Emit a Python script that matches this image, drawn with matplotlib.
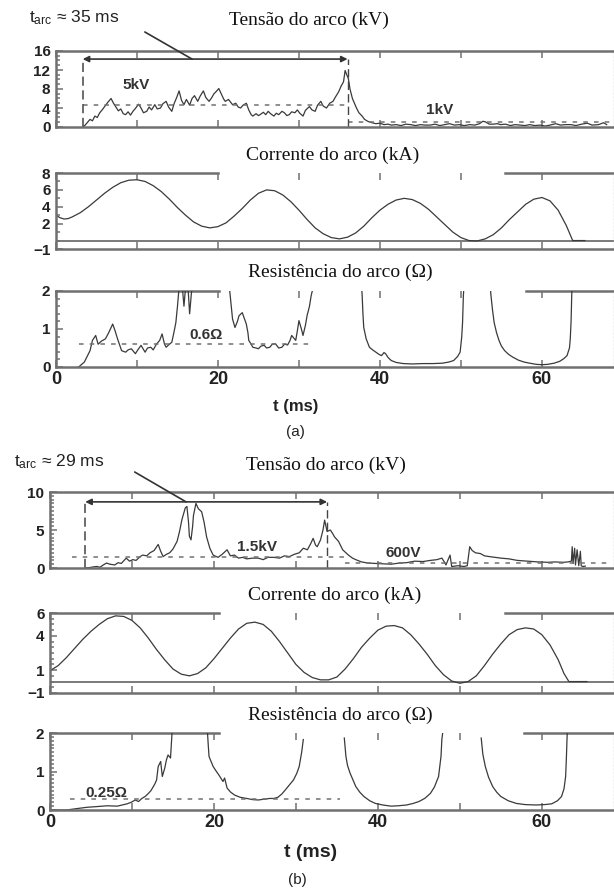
import matplotlib
matplotlib.use("Agg")
import matplotlib.pyplot as plt
import numpy as np
from matplotlib.ticker import MultipleLocator

plt.rcParams['font.family'] = ['Liberation Sans', 'DejaVu Sans']
plt.rcParams['mathtext.fontset'] = 'custom'
plt.rcParams['mathtext.rm'] = 'Liberation Sans'
plt.rcParams['mathtext.it'] = 'Liberation Sans'

# ---------------- data (t in ms) ----------------
# (a) arc voltage, kV
a_voltage = [(3.3, 0.0), (3.6, 0.4), (3.9, 1.0), (4.2, 1.6), (4.5, 1.3), (4.8, 2.3), (5.1, 2.0), (5.4, 3.0),
             (5.7, 3.6), (6.0, 4.3), (6.4, 5.2), (6.8, 6.0), (7.1, 5.0), (7.4, 4.2), (7.7, 3.4), (8.0, 3.8),
             (8.3, 2.8), (8.6, 2.6), (8.9, 3.2), (9.2, 2.5), (9.5, 3.3), (9.8, 3.9), (10.2, 4.8), (10.5, 4.0),
             (10.8, 3.0), (11.2, 3.3), (11.5, 4.2), (11.8, 3.6), (12.2, 4.7), (12.5, 3.8), (12.9, 4.0), (13.2, 4.9),
             (13.6, 5.4), (13.9, 4.2), (14.3, 3.3), (14.6, 5.0), (14.9, 6.2), (15.2, 7.6), (15.5, 5.6), (15.8, 4.7),
             (16.1, 5.8), (16.5, 4.6), (16.8, 6.0), (17.1, 6.6), (17.5, 5.4), (17.8, 6.5), (18.2, 7.6), (18.5, 6.2),
             (18.9, 5.4), (19.2, 6.1), (19.5, 7.0), (19.8, 7.5), (20.1, 8.1), (20.4, 7.0), (20.7, 5.9), (20.9, 5.4),
             (21.3, 5.8), (21.8, 4.7), (22.2, 5.0), (22.5, 4.2), (22.8, 4.0), (23.1, 4.6), (23.5, 5.0), (23.8, 3.6),
             (24.1, 2.6), (24.3, 2.3), (24.7, 2.8), (25.0, 2.4), (25.2, 2.6), (25.6, 3.1), (25.9, 2.6), (26.2, 3.3),
             (26.5, 2.8), (26.9, 2.3), (27.2, 2.9), (27.5, 2.6), (27.9, 3.3), (28.2, 3.0), (28.5, 2.4), (28.8, 2.6),
             (29.1, 3.2), (29.5, 3.0), (29.8, 3.6), (30.1, 2.9), (30.5, 2.3), (30.8, 3.5), (31.1, 4.0), (31.3, 4.3),
             (31.6, 3.6), (32.0, 3.3), (32.3, 4.6), (32.7, 5.4), (33.0, 4.4), (33.4, 4.0), (33.8, 5.0), (34.2, 5.4),
             (34.5, 6.3), (34.9, 7.4), (35.2, 8.6), (35.5, 9.5), (35.7, 11.9), (35.9, 11.0), (36.1, 10.2), (36.3, 8.0),
             (36.6, 6.0), (36.9, 4.8), (37.1, 4.0), (37.4, 3.0), (37.8, 2.3), (38.1, 1.6), (38.5, 1.2), (39.0, 0.9),
             (39.5, 0.7), (40.0, 0.8), (40.5, 0.5), (41.0, 0.6), (41.4, 0.4), (42.0, 0.5), (42.6, 0.3), (43.2, 0.6),
             (43.8, 0.5), (44.4, 0.3), (45.0, 0.5), (45.6, 0.4), (46.2, 0.4), (46.8, 0.6), (47.4, 0.3), (48.0, 0.5),
             (48.6, 0.7), (49.2, 0.4), (49.8, 0.5), (50.4, 0.3), (51.1, 0.5), (51.7, 0.4), (52.3, 0.7), (52.7, 1.2),
             (53.0, 1.1), (53.5, 0.6), (54.0, 0.6), (54.5, 0.7), (54.9, 0.5), (55.5, 0.6), (56.1, 0.3), (56.7, 0.5),
             (57.3, 0.4), (57.9, 0.3), (58.5, 0.5), (59.1, 0.3), (59.8, 0.4), (60.4, 0.2), (61.0, 0.4), (61.7, 0.7),
             (62.3, 0.4), (62.9, 0.5), (63.6, 0.5), (64.2, 0.3), (64.9, 0.6), (65.6, 0.8), (66.2, 0.4), (67.0, 0.5),
             (67.6, 0.9), (68.0, 0.5)]

# (a) arc current, kA
a_current = [(0, 3.0), (0.5, 2.7), (1, 2.55), (1.5, 2.6), (2, 2.8), (3, 3.3), (4, 4.0), (5, 4.8), (6, 5.6),
             (7, 6.3), (8, 6.85), (9, 7.15), (10, 7.2), (11, 7.0), (12, 6.5), (13, 5.8), (14, 4.9), (15, 3.9),
             (16, 3.0), (17, 2.2), (18, 1.7), (19, 1.5), (20, 1.65), (21, 2.1), (22, 2.9), (23, 3.8), (24, 4.8),
             (25, 5.6), (26, 6.0), (27, 5.9), (28, 5.4), (29, 4.6), (30, 3.6), (31, 2.5), (32, 1.5), (33, 0.8),
             (34, 0.35), (35, 0.2), (36, 0.4), (37, 0.9), (38, 1.7), (39, 2.7), (40, 3.6), (41, 4.3), (42, 4.8),
             (43, 5.0), (44, 4.85), (45, 4.4), (46, 3.7), (47, 2.8), (48, 1.9), (49, 1.0), (50, 0.35), (51, 0.0),
             (52, -0.05), (53, 0.2), (54, 0.7), (55, 1.5), (56, 2.5), (57, 3.4), (58, 4.3), (59, 4.9), (60, 5.1),
             (61, 4.7), (62, 3.6), (63, 1.8), (63.8, 0.0), (65.3, 0.0)]

# (a) arc resistance, ohm  (None = trace leaves the scale)
a_resistance = [(2.8, 0.0), (3.5, 0.13), (3.9, 0.3), (4.2, 0.43), (4.5, 0.7), (4.9, 0.83), (5.2, 0.6), (5.6, 0.68),
                (6.1, 0.74), (6.5, 0.9), (7.0, 1.13), (7.3, 0.95), (7.6, 0.74), (8.1, 0.43), (8.6, 0.39), (8.9, 0.45),
                (9.3, 0.48), (9.8, 0.35), (10.1, 0.45), (10.5, 0.57), (11.0, 0.39), (11.3, 0.5), (11.7, 0.52),
                (12.0, 0.45), (12.4, 0.6), (12.8, 0.7), (13.1, 0.87), (13.4, 0.6), (13.6, 0.52), (14.0, 0.6),
                (14.3, 0.65), (14.6, 0.95), (14.8, 1.17), (15.0, 1.6), (15.2, 2.1), (None, None),
                (15.6, 2.1), (15.8, 1.6), (16.0, 2.1), (None, None), (16.3, 2.1), (16.5, 1.4), (16.7, 1.9),
                (16.8, 2.1), (None, None),
                (21.4, 2.1), (21.5, 1.9), (21.8, 1.26), (22.1, 1.04), (22.4, 1.2), (22.6, 1.35), (23.0, 1.43),
                (23.3, 1.25), (23.5, 1.13), (23.7, 0.9), (23.8, 0.7), (24.1, 0.6), (24.3, 0.52), (24.7, 0.5),
                (25.0, 0.48), (25.3, 0.55), (25.7, 0.57), (26.0, 0.5), (26.4, 0.52), (26.7, 0.6), (27.1, 0.61),
                (27.5, 0.5), (27.9, 0.52), (28.2, 0.6), (28.6, 0.58), (28.9, 0.7), (29.1, 0.83), (29.4, 0.75),
                (29.6, 0.7), (29.8, 0.95), (30.0, 1.22), (30.3, 1.0), (30.5, 0.83), (30.8, 1.1), (31.0, 1.35),
                (31.3, 1.6), (31.5, 1.87), (31.7, 2.05), (None, None),
                (37.75, 2.05), (37.8, 1.9), (37.9, 1.4), (38.0, 1.04), (38.3, 0.74), (38.7, 0.52), (39.1, 0.45),
                (39.5, 0.39), (39.9, 0.33), (40.2, 0.3), (40.5, 0.38), (40.7, 0.35), (41.0, 0.25), (41.4, 0.17),
                (42.0, 0.12), (42.9, 0.09), (44.0, 0.08), (45.3, 0.09), (46.5, 0.09), (47.7, 0.1), (48.5, 0.13),
                (49.1, 0.17), (49.6, 0.28), (49.9, 0.39), (50.1, 0.8), (50.2, 1.17), (50.3, 1.87), (50.35, 2.05),
                (None, None),
                (53.65, 2.05), (53.7, 1.9), (53.9, 1.5), (54.1, 1.17), (54.4, 0.9), (54.7, 0.7), (55.0, 0.55),
                (55.4, 0.43), (55.9, 0.33), (56.4, 0.26), (57.1, 0.18), (57.8, 0.13), (58.5, 0.1), (59.3, 0.07),
                (60.0, 0.06), (60.7, 0.07), (61.5, 0.1), (62.2, 0.15), (62.7, 0.22), (63.1, 0.3), (63.4, 0.5),
                (63.5, 0.74), (63.6, 1.2), (63.7, 2.05)]

# (b) arc voltage, kV
b_voltage = [(4.3, 0.0), (4.8, 0.05), (5.3, 0.15), (5.7, 0.2), (6.1, 0.1), (6.5, 0.4), (6.9, 0.65), (7.3, 0.5),
             (7.9, 0.4), (8.3, 0.7), (8.7, 0.6), (9.3, 1.3), (9.7, 0.9), (10.1, 1.1), (10.5, 1.0), (11.0, 1.5),
             (11.3, 1.7), (11.8, 1.6), (12.2, 2.0), (12.7, 2.3), (13.2, 3.1), (13.5, 2.2), (13.8, 1.5), (14.2, 1.8),
             (14.6, 2.0), (15.0, 2.5), (15.5, 3.5), (15.8, 4.8), (16.1, 6.4), (16.5, 7.9), (16.7, 8.1), (16.9, 6.0),
             (17.0, 4.2), (17.2, 3.7), (17.4, 5.5), (17.5, 6.9), (17.8, 8.5), (18.1, 7.8), (18.5, 7.4), (18.8, 6.0),
             (19.1, 4.1), (19.5, 2.6), (19.9, 1.7), (20.5, 1.4), (21.0, 1.8), (21.6, 2.4), (22.0, 1.6), (22.5, 1.7),
             (23.0, 1.3), (23.5, 1.4), (24.0, 1.2), (24.7, 1.3), (25.4, 1.3), (26.0, 1.1), (26.6, 1.4), (27.3, 1.4),
             (28.0, 1.3), (28.6, 1.6), (29.2, 1.5), (29.8, 1.8), (30.4, 2.0), (30.9, 2.6), (31.4, 2.4), (31.8, 3.2),
             (32.1, 3.9), (32.4, 3.0), (32.6, 2.8), (33.0, 3.7), (33.3, 5.0), (33.5, 6.3), (33.8, 4.8), (34.2, 5.0),
             (34.5, 4.5), (34.7, 4.1), (35.2, 3.5), (35.7, 2.4), (36.1, 2.0), (36.4, 1.7), (36.9, 1.3), (37.3, 1.1),
             (38.0, 0.8), (38.8, 0.65), (39.7, 0.6), (40.7, 0.55), (41.6, 0.5), (42.6, 0.65), (43.5, 0.7),
             (44.5, 0.9), (45.5, 0.85), (46.4, 1.0), (47.2, 1.1), (47.8, 1.3), (48.1, 0.8), (48.3, 0.4), (48.6, 1.2),
             (48.8, 1.7), (49.0, 0.2), (49.8, 0.3), (50.5, 0.2), (50.9, 0.3), (51.1, 2.0), (51.2, 2.8), (51.5, 2.3),
             (51.9, 2.0), (52.5, 1.9), (53.0, 1.6), (53.6, 1.5), (54.3, 1.4), (55.0, 1.3), (56.0, 1.2), (57.0, 1.0),
             (58.3, 0.9), (59.5, 0.8), (60.7, 0.75), (61.6, 0.8), (62.6, 0.75), (63.2, 0.8), (63.6, 0.9),
             (63.7, 2.8), (63.8, 0.6), (64.0, 2.6), (64.1, 0.4), (64.3, 2.4), (64.5, 0.3), (64.7, 2.2), (64.8, 0.3),
             (65.0, 0.2), (65.3, 0.25)]

# (b) arc current, kA
b_current = [(0, 0.95), (1, 1.4), (2, 2.1), (3, 2.9), (4, 3.7), (5, 4.4), (6, 5.0), (7, 5.5), (8, 5.75),
             (9, 5.7), (10, 5.35), (11, 4.7), (12, 3.8), (13, 2.8), (14, 1.9), (15, 1.1), (16, 0.65), (17, 0.5),
             (18, 0.7), (19, 1.2), (20, 2.0), (21, 2.9), (22, 3.8), (23, 4.6), (24, 5.1), (25, 5.2), (26, 5.0),
             (27, 4.4), (28, 3.5), (29, 2.5), (30, 1.5), (31, 0.8), (32, 0.35), (33, 0.15), (34, 0.15), (35, 0.4),
             (36, 1.1), (37, 2.0), (38, 3.0), (39, 3.8), (40, 4.5), (41, 4.85), (42, 4.9), (43, 4.7), (44, 4.1),
             (45, 3.3), (46, 2.4), (47, 1.4), (48, 0.6), (49, 0.05), (50, -0.15), (51, 0.0), (52, 0.5), (53, 1.4),
             (54, 2.4), (55, 3.3), (56, 4.1), (57, 4.55), (58, 4.7), (59, 4.6), (60, 4.1), (61, 3.2), (62, 1.9),
             (62.7, 0.7), (63.3, 0.0), (65.5, 0.0)]

# (b) arc resistance, ohm
b_resistance = [(0, 0.0), (2.0, 0.0), (3.4, 0.04), (4.5, 0.07), (5.8, 0.09), (7.0, 0.11), (8.2, 0.1), (8.8, 0.13),
                (9.4, 0.16), (9.9, 0.2), (10.4, 0.26), (10.8, 0.22), (11.2, 0.3), (11.6, 0.35), (12.0, 0.43),
                (12.3, 0.5), (12.5, 0.57), (12.8, 0.68), (13.0, 0.78), (13.2, 1.13), (13.5, 1.26), (13.7, 0.87),
                (14.0, 1.09), (14.2, 1.3), (14.4, 1.43), (14.7, 1.35), (14.8, 1.7), (14.9, 2.05), (None, None),
                (19.2, 2.05), (19.3, 1.7), (19.4, 1.39), (19.9, 1.13), (20.3, 1.0), (20.6, 0.91), (21.1, 0.74),
                (21.3, 0.83), (21.6, 0.57), (22.0, 0.47), (22.5, 0.39), (23.2, 0.33), (24.0, 0.3), (24.7, 0.27),
                (25.4, 0.26), (26.1, 0.28), (26.8, 0.3), (27.3, 0.3), (27.8, 0.33), (28.3, 0.42), (28.7, 0.52),
                (29.2, 0.65), (29.7, 0.78), (30.1, 0.95), (30.4, 1.13), (30.7, 1.5), (30.9, 1.83), (None, None),
                (35.9, 1.87), (36.1, 1.39), (36.3, 1.15), (36.6, 0.96), (37.0, 0.76), (37.3, 0.61), (37.8, 0.46),
                (38.3, 0.35), (39.0, 0.24), (39.7, 0.17), (40.6, 0.13), (41.6, 0.1), (42.5, 0.11), (43.5, 0.13),
                (44.3, 0.17), (45.0, 0.22), (45.7, 0.3), (46.4, 0.43), (46.9, 0.6), (47.4, 0.87), (47.7, 1.4),
                (47.8, 1.83), (47.9, 2.0), (None, None),
                (52.6, 1.87), (52.8, 1.45), (53.1, 1.13), (53.5, 0.85), (54.0, 0.61), (54.5, 0.46), (55.0, 0.35),
                (55.9, 0.24), (56.9, 0.17), (58.0, 0.14), (59.3, 0.13), (60.3, 0.14), (61.2, 0.16), (61.9, 0.24),
                (62.4, 0.35), (62.7, 0.55), (62.9, 0.87), (63.0, 1.4), (63.1, 2.05)]

# mean levels (dashed) : (t_start, t_end, value)
a_volt_levels = [(3.3, 36.0, 4.7), (36.0, 68.5, 1.0)]
a_res_level = [(2.8, 31.5, 0.6)]
b_volt_levels = [(2.7, 36.0, 1.5), (36.0, 68.5, 0.6)]
b_res_level = [(2.5, 35.4, 0.28)]

# arc duration markers: (t_start, t_end, level)
a_arc = (3.3, 36.0, 14.3)
b_arc = (4.3, 33.8, 8.7)

# tick labels
ticks_a_v = [0, 4, 8, 12, 16]
ticks_a_i = [-1, 2, 4, 6, 8]
ticks_r = [0, 1, 2]
ticks_b_v = [0, 5, 10]
ticks_b_i = [-1, 1, 4, 6]
xtick_major = [0, 20, 40, 60]

# ---------------- drawing ----------------
W, H = 614, 888
fig = plt.figure(figsize=(W / 100, H / 100), dpi=100)

SP = '#707070'
LC = '#3a3a3a'
DC = '#707070'


def axes_px(left, top, bottom, right=614):
    return fig.add_axes([left / W, 1 - bottom / H, (right - left) / W, (bottom - top) / H])


def xy(pairs):
    arr = np.array([(np.nan if a is None else a, np.nan if b is None else b) for a, b in pairs], float)
    return arr[:, 0], arr[:, 1]


def setup(ax, xmax, ylim, yticks, yminor, xlabels=False, top_gap=None, ysize=11):
    ax.set_xlim(0, xmax)
    ax.set_ylim(*ylim)
    ax.set_yticks(yticks)
    ax.set_yticklabels([str(v).replace('-', '\u2212') for v in yticks], fontsize=ysize, fontweight='bold',
                       color='#222222')
    ax.yaxis.set_minor_locator(MultipleLocator(yminor))
    ax.set_xticks(xtick_major)
    ax.xaxis.set_minor_locator(MultipleLocator(10))
    ax.tick_params(which='both', direction='in', top=True, bottom=True, left=True, right=False,
                   color=SP, width=1.1)
    ax.tick_params(axis='x', which='both', length=5)
    ax.tick_params(axis='y', which='major', length=5, pad=4)
    ax.tick_params(axis='y', which='minor', length=3)
    ax.tick_params(axis='x', labelbottom=xlabels, labelsize=13, pad=3, labelcolor='#222222')
    for lab in ax.get_xticklabels():
        lab.set_fontweight('bold')
    for s in ['left', 'bottom', 'top']:
        ax.spines[s].set_color(SP)
        ax.spines[s].set_linewidth(1.8)
    ax.spines['right'].set_color('#c8c8c8')
    ax.spines['right'].set_linestyle(':')
    ax.spines['right'].set_linewidth(1.0)
    if top_gap is not None:
        ax.spines['top'].set_visible(False)
        g0, g1 = top_gap
        ax.axhline(ylim[1], xmin=0, xmax=g0 / xmax, color=SP, lw=1.8, clip_on=False)
        ax.axhline(ylim[1], xmin=g1 / xmax, xmax=1, color=SP, lw=1.8, clip_on=False)
    ax.patch.set_alpha(0)


def levels(ax, lv):
    for t0, t1, v in lv:
        ax.plot([t0, t1], [v, v], color=DC, lw=1.1, ls=(0, (3, 4)))


def arc_marker(ax, arc):
    t0, t1, lev = arc
    ax.plot([t0, t0], [0, lev], color='#444444', lw=1.1, ls=(0, (6, 3)))
    ax.plot([t1, t1], [0, lev], color='#444444', lw=1.0, ls=(0, (6, 3)))
    ax.annotate('', xy=(t0, lev), xytext=(t1, lev),
                arrowprops=dict(arrowstyle='<|-|>', color='#333333', lw=1.2, mutation_scale=9,
                                shrinkA=0, shrinkB=0))


title_kw = dict(family='Liberation Serif', fontsize=14, ha='center', va='center', color='#111111')
lab_kw = dict(fontsize=11, fontweight='bold', color='#333333', ha='center', va='center')

XA = 68.9
XB = 68.8

# ---- (a) voltage
ax = axes_px(56, 51, 127)
setup(ax, XA, (0, 16), ticks_a_v, 1)
t, v = xy(a_voltage)
ax.plot(t, v, color=LC, lw=0.9)
levels(ax, a_volt_levels)
arc_marker(ax, a_arc)
ax.text(9.9, 8.8, '5kV', **lab_kw)
ax.text(47.4, 3.6, '1kV', **lab_kw)
ax.annotate('', xy=(16.8, a_arc[2]), xytext=(-34, 19.5), textcoords='offset points',
            arrowprops=dict(arrowstyle='-', color='#333333', lw=1.2, shrinkA=0, shrinkB=0),
            annotation_clip=False)
fig.text(29 / W, 1 - 18 / H, r'$\mathrm{t_{arc}}$ ≈ 35 ms', fontsize=12.5, ha='left', va='center',
         color='#222222')
fig.text(309 / W, 1 - 20 / H, 'Tensão do arco (kV)', **title_kw)

# ---- (a) current
ax = axes_px(56, 173, 249)
setup(ax, XA, (-1, 8), ticks_a_i, 1, top_gap=(20.0, 55.4))
ax.axhline(0, color=SP, lw=1.3)
t, v = xy(a_current)
ax.plot(t, v, color=LC, lw=0.9)
fig.text(333 / W, 1 - 155 / H, 'Corrente do arco (kA)', **title_kw)

# ---- (a) resistance
ax = axes_px(56, 291, 367)
setup(ax, XA, (0, 2), ticks_r, 0.2, xlabels=True, top_gap=(20.1, 58.0))
t, v = xy(a_resistance)
ax.plot(t, v, color=LC, lw=0.9)
levels(ax, a_res_level)
ax.text(18.5, 0.83, '0.6Ω', **lab_kw)
fig.text(340 / W, 1 - 272 / H, 'Resistência do arco (Ω)', **title_kw)
fig.text(296 / W, 1 - 407 / H, 't (ms)', fontsize=12, fontweight='bold', ha='center', va='center',
         color='#222222')
fig.text(295 / W, 1 - 432 / H, '(a)', fontsize=11, ha='center', va='center', color='#222222')

# ---- (b) voltage
ax = axes_px(50, 492, 568)
setup(ax, XB, (0, 10), ticks_b_v, 0.5)
t, v = xy(b_voltage)
ax.plot(t, v, color=LC, lw=0.9)
levels(ax, b_volt_levels)
arc_marker(ax, b_arc)
ax.text(25.2, 2.8, '1.5kV', **lab_kw)
ax.text(43.1, 2.0, '600V', **lab_kw)
ax.annotate('', xy=(16.6, b_arc[2]), xytext=(-37, 21.5), textcoords='offset points',
            arrowprops=dict(arrowstyle='-', color='#333333', lw=1.2, shrinkA=0, shrinkB=0),
            annotation_clip=False)
fig.text(14 / W, 1 - 462 / H, r'$\mathrm{t_{arc}}$ ≈ 29 ms', fontsize=12.5, ha='left', va='center',
         color='#222222')
fig.text(326 / W, 1 - 465 / H, 'Tensão do arco (kV)', **title_kw)

# ---- (b) current
ax = axes_px(50, 613, 693)
setup(ax, XB, (-1, 6), ticks_b_i, 0.5, top_gap=(20.6, 55.5))
ax.axhline(0, color=SP, lw=1.3)
t, v = xy(b_current)
ax.plot(t, v, color=LC, lw=0.9)
fig.text(335 / W, 1 - 595 / H, 'Corrente do arco (kA)', **title_kw)

# ---- (b) resistance
ax = axes_px(50, 733, 810)
setup(ax, XB, (0, 2), ticks_r, 0.1, xlabels=True, top_gap=(20.6, 57.8))
t, v = xy(b_resistance)
ax.plot(t, v, color=LC, lw=0.9)
levels(ax, b_res_level)
ax.text(6.9, 0.45, '0.25Ω', **lab_kw)
fig.text(340 / W, 1 - 715 / H, 'Resistência do arco (Ω)', **title_kw)
fig.text(311 / W, 1 - 852 / H, 't (ms)', fontsize=14, fontweight='bold', ha='center', va='center',
         color='#222222')
fig.text(297 / W, 1 - 880 / H, '(b)', fontsize=11, ha='center', va='center', color='#222222')

fig.savefig('out.png', dpi=100, facecolor='white')
